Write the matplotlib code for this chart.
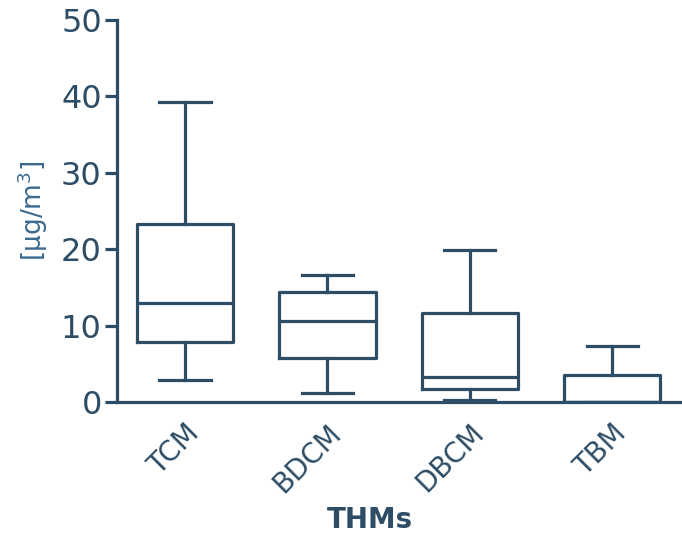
import matplotlib
matplotlib.use("Agg")
import matplotlib.pyplot as plt

categories = ["TCM", "BDCM", "DBCM", "TBM"]
whisker_low = [2.9, 1.2, 0.3, 0.0]
q1 = [7.8, 5.8, 1.7, 0.0]
median = [12.9, 10.6, 3.3, 0.0]
q3 = [23.3, 14.4, 11.6, 3.5]
whisker_high = [39.3, 16.6, 19.9, 7.3]
y_ticks = [0, 10, 20, 30, 40, 50]

col = "#2d4d66"
label_col = "#3a6a8e"

fig = plt.figure(figsize=(6.82, 5.45), dpi=100)
ax = fig.add_axes([0.1716, 0.2624, 0.8284, 0.7009])

stats = []
for i, c in enumerate(categories):
    stats.append(dict(label=c, whislo=whisker_low[i], q1=q1[i], med=median[i],
                      q3=q3[i], whishi=whisker_high[i], fliers=[]))

lw = 2.3
ax.bxp(stats, positions=range(len(categories)), widths=0.675, capwidths=0.36,
       showfliers=False,
       boxprops=dict(color=col, linewidth=lw),
       medianprops=dict(color=col, linewidth=lw),
       whiskerprops=dict(color=col, linewidth=lw),
       capprops=dict(color=col, linewidth=lw))

ax.set_xlim(-0.478, 3.49)
ax.set_ylim(0, 50)
ax.set_yticks(y_ticks)
ax.set_yticklabels([str(t) for t in y_ticks], fontsize=23, color=col)
ax.set_xticks(range(len(categories)))
ax.set_xticklabels(categories, rotation=45, ha="right", rotation_mode="anchor",
                   fontsize=20, color=col)
ax.tick_params(axis="y", length=9, width=lw, color=col, pad=2)
ax.tick_params(axis="x", length=0, pad=12)
for s in ["top", "right"]:
    ax.spines[s].set_visible(False)
for s in ["left", "bottom"]:
    ax.spines[s].set_color(col)
    ax.spines[s].set_linewidth(lw)

ax.set_ylabel("[µg/m$^3$]", fontsize=19, color=label_col)
ax.yaxis.set_label_coords(-0.118, 0.5)
ax.set_xlabel("THMs", fontsize=20, fontweight="bold", color=col)
ax.xaxis.set_label_coords(0.448, -0.272)

fig.savefig("out.png", dpi=100)
